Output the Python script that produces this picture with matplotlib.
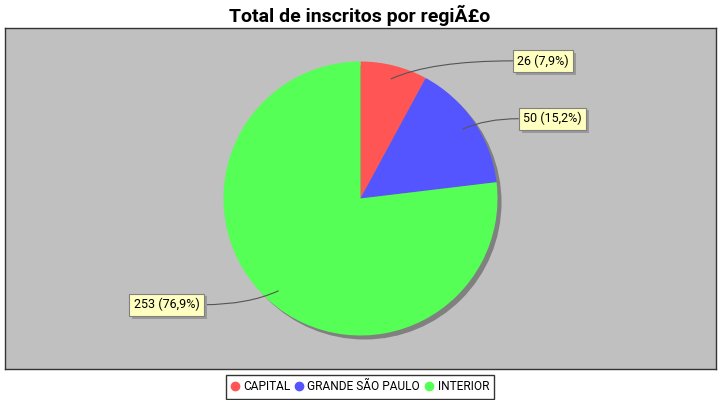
import numpy as np
import matplotlib
matplotlib.use("Agg")
import matplotlib.pyplot as plt
from matplotlib.path import Path
from matplotlib.patches import PathPatch, Circle
from matplotlib.lines import Line2D
from matplotlib import patheffects as pe

plt.rcParams['font.family'] = ['Roboto', 'DejaVu Sans']

regions = ["CAPITAL", "GRANDE SÃO PAULO", "INTERIOR"]
counts = [26, 50, 253]
pct_labels = ["7,9%", "15,2%", "76,9%"]
colors = ["#FF5555", "#5555FF", "#55FF55"]
title = "Total de inscritos por regiÃ£o"

W, H = 720, 400
fig = plt.figure(figsize=(7.2, 4.0), dpi=100)
fig.patch.set_facecolor("white")

# plot area in pixels: x 5..716, y 28..369
left, top, right, bottom = 5, 28, 716, 369
ax = fig.add_axes([left / W, 1 - bottom / H, (right - left) / W, (bottom - top) / H])
ax.set_facecolor("#C0C0C0")

R = 137
# shadow
ax.add_patch(Circle((4, -4), R, color="#808080", zorder=1, lw=0))
wedges, _ = ax.pie(counts, colors=colors, startangle=90, counterclock=False,
                   radius=R, center=(0, 0), frame=True,
                   wedgeprops=dict(linewidth=0, zorder=2))
for w in wedges:
    w.set_zorder(2)

hw, hh = (right - left) / 2, (bottom - top) / 2
ax.set_xlim(-hw, hw)
ax.set_ylim(-hh, hh)
ax.set_aspect("equal")
ax.set_xticks([])
ax.set_yticks([])
for s in ax.spines.values():
    s.set_edgecolor("#333333")
    s.set_linewidth(1.0)
    s.set_visible(True)

total = sum(counts)
cum = 0
for v, p in zip(counts, pct_labels):
    mid = np.deg2rad(90 - (cum + v / 2) / total * 360)
    cum += v
    c, s = np.cos(mid), np.sin(mid)
    lx, ly = 0.9 * R * c, 0.9 * R * s
    ty = 142 * s
    side = 1 if c >= 0 else -1
    tx = side * (150 + 10 * abs(c))
    ctrl = (lx + side * 2.2 * abs(ty - ly), ty)
    path = Path([(lx, ly), ctrl, (tx, ty)], [Path.MOVETO, Path.CURVE3, Path.CURVE3])
    ax.add_patch(PathPatch(path, fill=False, edgecolor="#555555", lw=0.8, zorder=3))
    t = ax.text(tx + side * 4.5, ty, f"{v} ({p})", ha="left" if side > 0 else "right",
                va="center", fontsize=9, zorder=4,
                bbox=dict(boxstyle="square,pad=0.35", fc="#FFFFC0", ec="#808080", lw=0.8))
    t.get_bbox_patch().set_path_effects([
        pe.SimplePatchShadow(offset=(2, -2), shadow_rgbFace="#999999", alpha=1.0),
        pe.Normal()])

fig.text(0.5, 1 - 15 / H, title, ha="center", va="center",
         fontsize=14, fontweight="bold")

handles = [Line2D([], [], marker="o", ls="", color=c, markersize=6) for c in colors]
leg = fig.legend(handles, regions, loc="center", bbox_to_anchor=(0.5, 1 - 387 / H),
                 ncol=3, fontsize=8.6, frameon=True, fancybox=False,
                 handlelength=0.6, handletextpad=0.4, columnspacing=0.45,
                 borderpad=0.45, borderaxespad=0)
leg.get_frame().set_edgecolor("black")
leg.get_frame().set_linewidth(1.0)

fig.savefig("out.png", dpi=100)
